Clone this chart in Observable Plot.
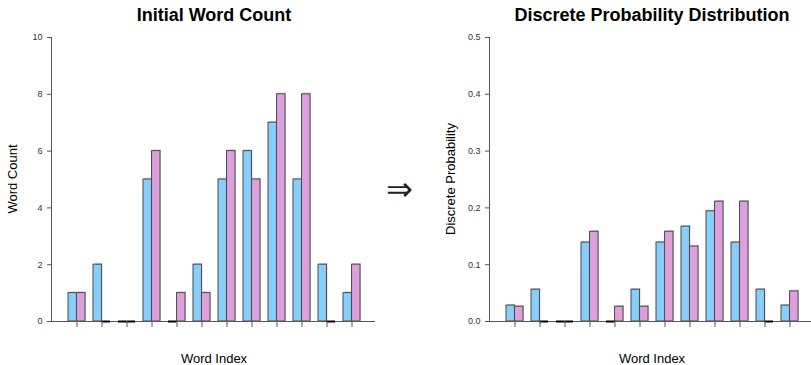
<!DOCTYPE html>
<html>
<head>
<meta charset="utf-8">
<script src="https://cdn.jsdelivr.net/npm/d3@7"></script>
<script src="https://cdn.jsdelivr.net/npm/@observablehq/plot@0.6"></script>
<style>
  html, body { margin: 0; padding: 0; background: #fff; overflow: hidden; }
  #wrap { position: relative; width: 811px; height: 365px; overflow: hidden; font-family: "Liberation Sans", Arial, sans-serif; }
  .panel { position: absolute; top: 0; width: 438px; height: 365px; }
  .panel svg { max-width: none !important; width: 438px !important; height: 365px !important; }
  #overlay { position: absolute; left: 0; top: 0; }
</style>
</head>
<body>
<div id="wrap">
  <div id="left" class="panel" style="left:0px"></div>
  <div id="right" class="panel" style="left:438px"></div>
</div>
<script>
// ---- data ----
const wordIndex = [1, 2, 3, 4, 5, 6, 7, 8, 9, 10, 11, 12];
const countBlue   = [1, 2, 0, 5, 0, 2, 5, 6, 7, 5, 2, 1];
const countPurple = [1, 0, 0, 6, 1, 1, 6, 5, 8, 8, 0, 2];
const probBlue   = [0.028, 0.056, 0, 0.139, 0, 0.056, 0.139, 0.167, 0.194, 0.139, 0.056, 0.028];
const probPurple = [0.026, 0, 0, 0.158, 0.026, 0.026, 0.158, 0.132, 0.211, 0.211, 0, 0.053];
const countTicks = [0, 2, 4, 6, 8, 10];
const probTicks = [0, 0.1, 0.2, 0.3, 0.4, 0.5];
const titles = ["Initial Word Count", "Discrete Probability Distribution"];
const yLabels = ["Word Count", "Discrete Probability"];
const xLabel = "Word Index";
const arrowSymbol = "\u21D2";

const BLUE = "#87CEFA", PURPLE = "#DDA0DD";

function panel(blue, purple, ticks, fmt) {
  const rows = [];
  wordIndex.forEach((w, i) => {
    rows.push({w, series: "a", v: blue[i]});
    rows.push({w, series: "b", v: purple[i]});
  });
  const W = 438, H = 365, mL = 52, mR = 63, mT = 37, mB = 44;
  const bw = 25.63 * 2 / 3;
  const half = bw / 2;
  const yMax = ticks[ticks.length - 1];
  const blueRows = rows.filter(d => d.series === "a" && d.v > 0);
  const purpleRows = rows.filter(d => d.series === "b" && d.v > 0);
  const zeroA = rows.filter(d => d.series === "a" && d.v === 0);
  const zeroB = rows.filter(d => d.series === "b" && d.v === 0);
  const axisLines = (index, scales, values, dims) => {
    const g = d3.create("svg:g").attr("stroke", "#555").attr("fill", "none").attr("stroke-width", 1);
    const y0 = scales.y(0), yTop = scales.y(yMax);
    g.append("line").attr("x1", dims.marginLeft - 0.5).attr("x2", dims.marginLeft - 0.5).attr("y1", y0).attr("y2", yTop);
    g.append("line").attr("x1", dims.marginLeft - 5).attr("x2", dims.width - dims.marginRight).attr("y1", y0 + 0.5).attr("y2", y0 + 0.5);
    return g.node();
  };
  return Plot.plot({
    width: W, height: H,
    marginLeft: mL, marginRight: mR, marginTop: mT, marginBottom: mB,
    style: {fontFamily: "'Liberation Sans', Arial, sans-serif", fontSize: "9px", background: "transparent", color: "#333", maxWidth: "none"},
    x: {type: "band", domain: wordIndex, range: [60, 367.6], paddingInner: 1/3, paddingOuter: 1/6, axis: null},
    y: {domain: [0, yMax], axis: null},
    marks: [
      // shadow
      Plot.barY(blueRows, {x: "w", y: "v", insetRight: half, fill: "#cfcfcf", dx: 1, dy: -1.2}),
      Plot.barY(purpleRows, {x: "w", y: "v", insetLeft: half, fill: "#cfcfcf", dx: 1, dy: -1.2}),
      Plot.barY(blueRows, {x: "w", y: "v", insetRight: half, fill: BLUE, stroke: "#4a4a4a", strokeWidth: 1}),
      Plot.barY(purpleRows, {x: "w", y: "v", insetLeft: half, fill: PURPLE, stroke: "#4a4a4a", strokeWidth: 1}),
      axisLines,
      Plot.tickY(zeroA, {x: "w", y: "v", insetRight: half, stroke: "#000", strokeWidth: 2}),
      Plot.tickY(zeroB, {x: "w", y: "v", insetLeft: half, stroke: "#000", strokeWidth: 2}),
      Plot.axisY({ticks, tickSize: 5, tickPadding: 5, tickFormat: fmt, stroke: "#555", fill: "#333", label: null}),
      Plot.axisX({tickSize: 6, tickFormat: () => "", stroke: "#555", label: null})
    ]
  });
}

document.getElementById("left").appendChild(panel(countBlue, countPurple, countTicks, d3.format("d")));
document.getElementById("right").appendChild(panel(probBlue, probPurple, probTicks, d3.format(".1f")));

// overlay texts
const ov = d3.select("#wrap").append("svg").attr("id", "overlay")
  .attr("width", 811).attr("height", 365)
  .style("font-family", "'Liberation Sans', Arial, sans-serif");
const offsets = [0, 438];
offsets.forEach((o, i) => {
  ov.append("text").attr("x", 214 + o).attr("y", 21).attr("text-anchor", "middle")
    .attr("font-size", 18).attr("font-weight", "bold").attr("fill", "#000").text(titles[i]);
  ov.append("text").attr("transform", `translate(${17 + o},179) rotate(-90)`).attr("text-anchor", "middle")
    .attr("font-size", 13).attr("fill", "#000").text(yLabels[i]);
  ov.append("text").attr("x", 214 + o).attr("y", 362.5).attr("text-anchor", "middle")
    .attr("font-size", 13).attr("fill", "#000").text(xLabel);
});
ov.append("text").attr("x", 399.5).attr("y", 200).attr("text-anchor", "middle")
  .attr("font-family", "'DejaVu Sans', sans-serif").attr("font-size", 32)
  .attr("fill", "#222").text(arrowSymbol);
</script>
</body>
</html>
